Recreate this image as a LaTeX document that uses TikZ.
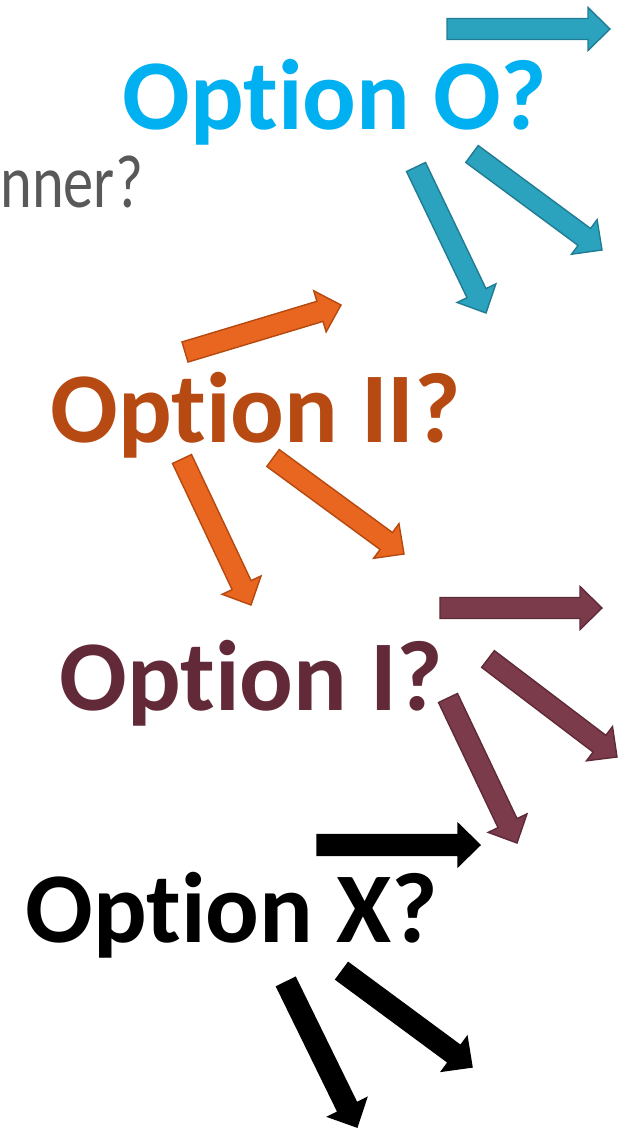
\documentclass[tikz,border=0pt]{standalone}
\usepackage{fontspec}
\setmainfont{Carlito}[Ligatures=NoCommon]
\usetikzlibrary{calc}

\definecolor{optcyan}{HTML}{00B0F0}
\definecolor{optrust}{HTML}{B64A12}
\definecolor{optwine}{HTML}{622A38}
\definecolor{optgray}{HTML}{595959}
\definecolor{arrteal}{HTML}{2CA3BE}
\definecolor{arrtealdk}{HTML}{217C93}
\definecolor{arrorange}{HTML}{E8661F}
\definecolor{arrorangedk}{HTML}{B5490F}
\definecolor{arrwine}{HTML}{7B3B4A}
\definecolor{arrwinedk}{HTML}{5E2A37}

\tikzset{
    optlabel/.style={anchor=base west, inner sep=0pt, font=\fontsize{57}{60}\selectfont\bfseries},
    blockarr/.style={line width=0.8pt, line join=miter},
    tealarr/.style={blockarr, fill=arrteal, draw=arrtealdk},
    orangearr/.style={blockarr, fill=arrorange, draw=arrorangedk},
    winearr/.style={blockarr, fill=arrwine, draw=arrwinedk},
    blackarr/.style={blockarr, fill=black, draw=black}
}

% block arrow from tail #2 to tip #3
\newcommand\blockarrow[3]{%
    \coordinate (#2h) at ($(#3)!0.44cm!(#2)$);
    \draw[#1] ($(#2)!0.21cm!90:(#3)$) -- ($(#2h)!0.21cm!90:(#3)$) -- ($(#2h)!0.43cm!90:(#3)$)
        -- (#3) -- ($(#2h)!0.43cm!-90:(#3)$) -- ($(#2h)!0.21cm!-90:(#3)$) -- ($(#2)!0.21cm!-90:(#3)$) -- cycle;
}

\begin{document}
\begin{tikzpicture}[x=0.02cm, y=-0.02cm]
    \clip (0,0) rectangle (628,1128);

    \node[anchor=base west, inner sep=0pt, text=optgray, font=\fontsize{43}{46}\selectfont] (winner) at (0,208) {\scalebox{0.8}[1]{nner?}};

    \node[optlabel, text=optcyan] (opto) at (122,130) {Option O?};
    \node[optlabel, text=optrust] (optii) at (50,442) {Option II?};
    \node[optlabel, text=optwine] (opti) at (59,710) {Option I?};
    \node[optlabel, text=black] (optx) at (25,942) {Option X?};

    \coordinate (oa) at (447,29);   \coordinate (oa1) at (610,29);
    \coordinate (ob) at (472,154);  \coordinate (ob1) at (602,250);
    \coordinate (oc) at (416,167);  \coordinate (oc1) at (486,313);
    \coordinate (iia) at (185,352); \coordinate (iia1) at (341,305);
    \coordinate (iib) at (273,458); \coordinate (iib1) at (404,554);
    \coordinate (iic) at (182,459); \coordinate (iic1) at (251,605);
    \coordinate (ia) at (440,608);  \coordinate (ia1) at (602,608);
    \coordinate (ib) at (488,659);  \coordinate (ib1) at (617,757);
    \coordinate (ic) at (448,698);  \coordinate (ic1) at (517,843);
    \coordinate (xa) at (317,845);  \coordinate (xa1) at (480,845);
    \coordinate (xb) at (342,971);  \coordinate (xb1) at (472,1067);
    \coordinate (xc) at (286,982);  \coordinate (xc1) at (357,1127);

    \blockarrow{tealarr}{oa}{oa1}
    \blockarrow{tealarr}{ob}{ob1}
    \blockarrow{tealarr}{oc}{oc1}
    \blockarrow{orangearr}{iia}{iia1}
    \blockarrow{orangearr}{iib}{iib1}
    \blockarrow{orangearr}{iic}{iic1}
    \blockarrow{winearr}{ia}{ia1}
    \blockarrow{winearr}{ib}{ib1}
    \blockarrow{winearr}{ic}{ic1}
    \blockarrow{blackarr}{xa}{xa1}
    \blockarrow{blackarr}{xb}{xb1}
    \blockarrow{blackarr}{xc}{xc1}
\end{tikzpicture}
\end{document}
